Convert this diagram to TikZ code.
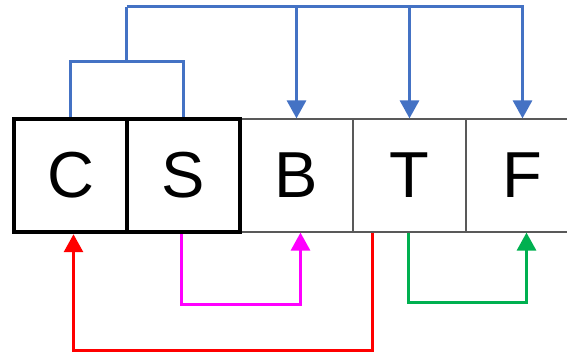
\documentclass[tikz,border=0pt]{standalone}
\usepackage{fontspec}
\setmainfont{Liberation Sans}
\usetikzlibrary{arrows.meta,positioning}

\definecolor{linkblue}{RGB}{68,114,196}
\definecolor{linkgreen}{RGB}{0,176,80}
\definecolor{linkred}{RGB}{255,0,0}
\definecolor{linkpink}{RGB}{255,0,255}

\begin{document}
\begin{tikzpicture}[
        x=1pt, y=1pt,
        node distance=113pt,
        cell/.style={
            rectangle,
            draw=black!65,
            line width=1.2pt,
            minimum width=113pt,
            minimum height=113pt,
            inner sep=0pt,
            font=\fontsize{65}{65}\selectfont
        },
        thickcell/.style={
            cell,
            draw=black,
            line width=4.5pt
        },
        link/.style={
            line width=3pt,
            -{Triangle[width=19pt,length=18pt]}
        }
    ]
        \useasboundingbox (0,0) rectangle (567,356);

        % Plain cells (B-T-F)
        \node[cell] (b) at (296.5,180.5) {B};
        \node[cell] (t) [right of=b] {T};
        \node[cell] (f) [right of=t] {F};

        % Framed cells (C-S)
        \node[thickcell] (s) [left of=b] {S};
        \node[thickcell] (c) [left of=s] {C};

        % Top links
        \coordinate (fork) at (126.5,294);
        \coordinate (top) at (126.5,349);
        \draw[linkblue, line width=3pt] (c.north) |- (fork) -| (s.north);
        \draw[linkblue, line width=3pt] (fork) -- (top);
        \draw[linkblue, link] (top) -| (f.north);
        \draw[linkblue, link] (top -| b.north) -- (b.north);
        \draw[linkblue, link] (top -| t.north) -- (t.north);

        % Bottom links
        \draw[linkred, link] ([xshift=-37pt]t.south) -- ++(0,-118) -| ([xshift=3pt]c.south);
        \draw[linkpink, link] ([xshift=-2pt]s.south) -- ++(0,-70) -| ([xshift=4pt]b.south);
        \draw[linkgreen, link] ([xshift=-1pt]t.south) -- ++(0,-70) -| ([xshift=4pt]f.south);
    \end{tikzpicture}
\end{document}
